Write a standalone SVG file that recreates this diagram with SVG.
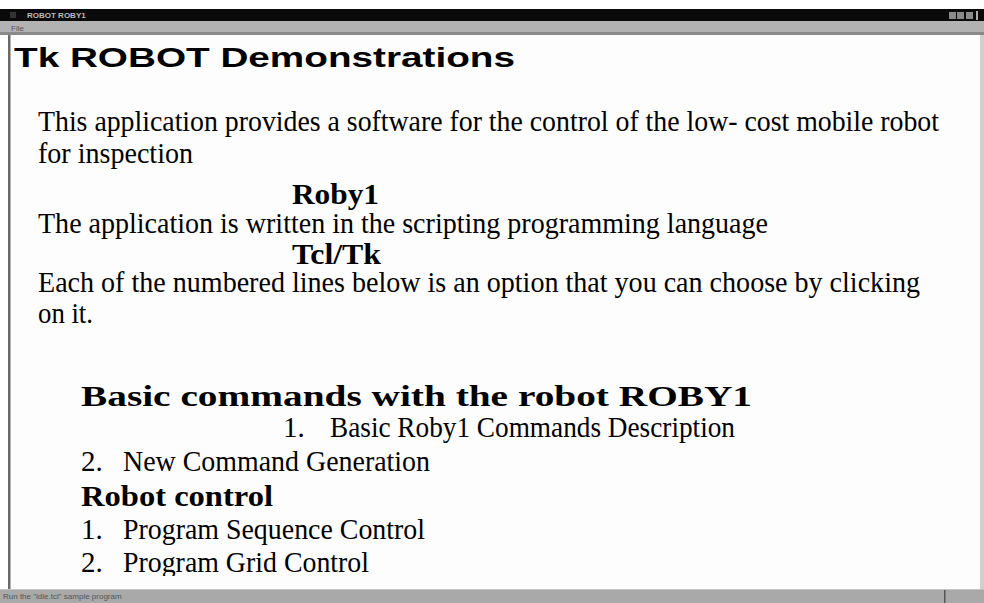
<svg xmlns="http://www.w3.org/2000/svg" width="984" height="603" viewBox="0 0 984 603">
<style>
.b{font-family:"Liberation Serif","Times New Roman",serif;font-size:29px;fill:#000}
.h{font-family:"Liberation Serif","Times New Roman",serif;font-size:30px;font-weight:bold;fill:#000}
.t{font-family:"Liberation Sans",Arial,sans-serif;font-size:27px;font-weight:bold;fill:#000}
.s{font-family:"Liberation Sans",Arial,sans-serif;font-size:8px}
</style>
<defs><clipPath id="clipText"><rect x="10" y="35" width="970" height="541"/></clipPath></defs>
<rect x="0" y="0" width="984" height="603" fill="#ffffff"/>
<g id="titlebar">
<rect x="0" y="9" width="984" height="12" fill="#0a0a0a"/>
<rect x="10" y="12" width="6" height="6" fill="#333"/>
<text x="27" y="18" class="s" fill="#bbbbbb" font-weight="bold">ROBOT ROBY1</text>
<rect x="949" y="12" width="7" height="7" fill="#8a8a8a"/>
<rect x="957" y="12" width="7" height="7" fill="#8a8a8a"/>
<rect x="966" y="12" width="7" height="7" fill="#8a8a8a"/>
<rect x="976" y="11" width="2" height="9" fill="#aaaaaa"/>
</g>
<g id="menubar">
<rect x="0" y="21" width="984" height="12" fill="#b2b2b2"/>
<text x="11" y="31" class="s" fill="#555">File</text>
<rect x="0" y="32" width="984" height="3" fill="#8a8a8a"/>
</g>
<g id="content">
<rect x="10" y="35" width="970" height="554" fill="#fdfdfd"/>
<rect x="8" y="35" width="2.5" height="555" fill="#6a6a6a"/>
<rect x="980" y="35" width="4" height="555" fill="#cfcfcf"/>
<text x="14" y="67" class="t" textLength="501" lengthAdjust="spacingAndGlyphs">Tk ROBOT Demonstrations</text>
<g clip-path="url(#clipText)">
<text x="38" y="131" class="b" textLength="901" lengthAdjust="spacingAndGlyphs">This application provides a software for the control of the low- cost mobile robot</text>
<text x="38" y="163" class="b" textLength="155" lengthAdjust="spacingAndGlyphs">for inspection</text>
<text x="292" y="204" class="h" textLength="87" lengthAdjust="spacingAndGlyphs">Roby1</text>
<text x="38" y="233" class="b" textLength="730" lengthAdjust="spacingAndGlyphs">The application is written in the scripting programming language</text>
<text x="292" y="264" class="h" font-size="29" textLength="89" lengthAdjust="spacingAndGlyphs">Tcl/Tk</text>
<text x="38" y="292" class="b" textLength="882" lengthAdjust="spacingAndGlyphs">Each of the numbered lines below is an option that you can choose by clicking</text>
<text x="38" y="323" class="b" textLength="55" lengthAdjust="spacingAndGlyphs">on it.</text>
<text x="81" y="406" class="h" font-size="32" textLength="671" lengthAdjust="spacingAndGlyphs">Basic commands with the robot ROBY1</text>
<text x="283" y="437" class="b">1.</text>
<text x="330" y="437" class="b" textLength="405" lengthAdjust="spacingAndGlyphs">Basic Roby1 Commands Description</text>
<text x="81" y="471" class="b">2.</text>
<text x="123" y="471" class="b" textLength="307" lengthAdjust="spacingAndGlyphs">New Command Generation</text>
<text x="81" y="506" class="h" font-size="32" textLength="192" lengthAdjust="spacingAndGlyphs">Robot control</text>
<text x="81" y="539" class="b">1.</text>
<text x="123" y="539" class="b" textLength="302" lengthAdjust="spacingAndGlyphs">Program Sequence Control</text>
<text x="81" y="572" class="b">2.</text>
<text x="123" y="572" class="b" textLength="246" lengthAdjust="spacingAndGlyphs">Program Grid Control</text>
</g>
</g>
<g id="statusbar">
<rect x="0" y="589" width="984" height="14" fill="#a9a9a9"/>
<rect x="0" y="589" width="984" height="1" fill="#c4c4c4"/>
<rect x="944" y="590" width="1.5" height="13" fill="#555"/>
<text x="3" y="599" class="s" font-size="7" fill="#555">Run the "idle.tcl" sample program</text>
</g>
</svg>
